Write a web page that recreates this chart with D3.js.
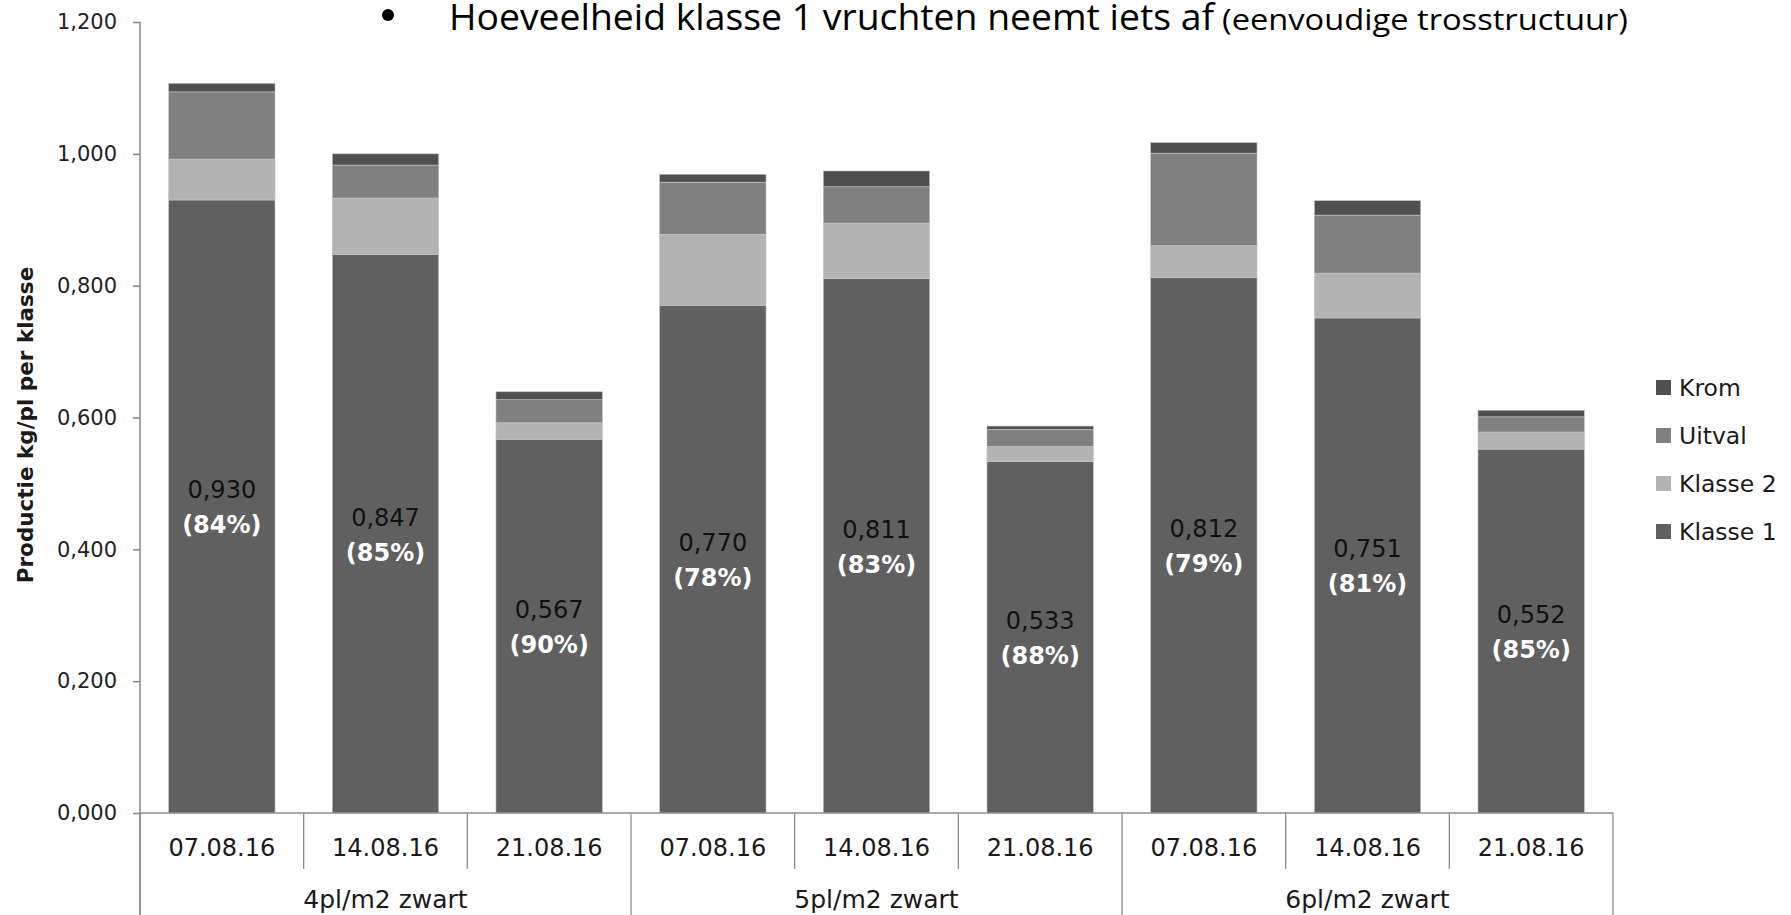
<!DOCTYPE html>
<html>
<head>
<meta charset="utf-8">
<script src="https://cdnjs.cloudflare.com/ajax/libs/d3/7.8.5/d3.min.js"></script>
<style>
  body { margin: 0; background: #fff; }
  text { font-family: "DejaVu Sans", "Lato", sans-serif; fill: #1a1a1a; }
</style>
</head>
<body>
<script>
// chart data
var categories = ["07.08.16", "14.08.16", "21.08.16",
                  "07.08.16", "14.08.16", "21.08.16",
                  "07.08.16", "14.08.16", "21.08.16"];
var groups = ["4pl/m2 zwart", "5pl/m2 zwart", "6pl/m2 zwart"];
var klasse1 = [0.930, 0.847, 0.567, 0.770, 0.811, 0.533, 0.812, 0.751, 0.552];
var klasse2 = [0.062, 0.086, 0.025, 0.108, 0.084, 0.023, 0.049, 0.068, 0.026];
var uitval  = [0.102, 0.050, 0.035, 0.079, 0.055, 0.026, 0.140, 0.088, 0.023];
var krom    = [0.013, 0.017, 0.012, 0.012, 0.024, 0.005, 0.016, 0.022, 0.010];
var percents = ["84%", "85%", "90%", "78%", "83%", "88%", "79%", "81%", "85%"];
var yTicks = [0, 0.2, 0.4, 0.6, 0.8, 1.0, 1.2];
var seriesNames = ["Klasse 1", "Klasse 2", "Uitval", "Krom"];
var seriesColors = ["#606060", "#b3b3b3", "#808080", "#505050"];

var W = 1791, H = 915;
var margin = {left: 140, right: 178, top: 22, bottom: 102};
var plotW = W - margin.left - margin.right,
    plotH = H - margin.top - margin.bottom;

var nl = d3.formatLocale({decimal: ",", thousands: ".", grouping: [3], currency: ["€", ""]});
var fmt = nl.format(".3f");

var svg = d3.select("body").append("svg")
    .attr("width", W)
    .attr("height", H);

var g = svg.append("g")
    .attr("transform", "translate(" + margin.left + "," + margin.top + ")");

// scales
var x = d3.scaleBand()
    .domain(d3.range(categories.length))
    .range([0, plotW])
    .paddingInner(0.35)
    .paddingOuter(0.175);
var step = x.step();
var y = d3.scaleLinear().domain([0, 1.2]).range([plotH, 0]);

// build rows for the stack
var rows = categories.map(function(c, i) {
  return {i: i, "Klasse 1": klasse1[i], "Klasse 2": klasse2[i], "Uitval": uitval[i], "Krom": krom[i]};
});
var stacked = d3.stack().keys(seriesNames)(rows);

// bars
g.selectAll("g.layer")
  .data(stacked)
  .enter().append("g")
    .attr("class", "layer")
    .attr("fill", function(d, i) { return seriesColors[i]; })
  .selectAll("rect")
  .data(function(d) { return d; })
  .enter().append("rect")
    .attr("x", function(d) { return x(d.data.i); })
    .attr("width", x.bandwidth())
    .attr("y", function(d) { return y(d[1]); })
    .attr("height", function(d) { return y(d[0]) - y(d[1]); })
    .attr("stroke", "#c4c4c4")
    .attr("stroke-width", 0.6);

// value labels inside klasse 1
var lab = g.selectAll("g.vlab")
  .data(klasse1)
  .enter().append("g")
    .attr("class", "vlab")
    .attr("transform", function(d, i) {
      return "translate(" + (x(i) + x.bandwidth() / 2) + "," + y(d / 2) + ")";
    });
lab.append("text")
    .attr("text-anchor", "middle")
    .attr("y", -8)
    .style("font-size", "24px")
    .style("fill", "#111")
    .text(function(d) { return fmt(d); });
lab.append("text")
    .attr("text-anchor", "middle")
    .attr("y", 27)
    .style("font-size", "24px")
    .style("font-weight", "bold")
    .style("fill", "#fff")
    .text(function(d, i) { return "(" + percents[i] + ")"; });

// y axis
var yAxis = g.append("g")
    .call(d3.axisLeft(y).tickValues(yTicks).tickSize(7).tickPadding(16).tickFormat(fmt));
yAxis.selectAll("path, line").attr("stroke", "#8c8c8c").attr("stroke-width", 1.6);
yAxis.select("path").attr("d", "M0," + y(1.2) + "V" + (H - margin.top));
yAxis.selectAll("text")
    .style("font-size", "21px")
    .style("font-family", "'DejaVu Sans', sans-serif")
    .style("fill", "#222");

// x axis line
g.append("line")
    .attr("x1", 0).attr("x2", plotW)
    .attr("y1", plotH).attr("y2", plotH)
    .attr("stroke", "#8c8c8c").attr("stroke-width", 1.6);

// category dividers, longer ones between groups
g.selectAll("line.div")
  .data(d3.range(categories.length + 1))
  .enter().append("line")
    .attr("class", "div")
    .attr("x1", function(d) { return d * step; })
    .attr("x2", function(d) { return d * step; })
    .attr("y1", plotH)
    .attr("y2", function(d) { return d % 3 === 0 ? H - margin.top : plotH + 56; })
    .attr("stroke", "#8c8c8c")
    .attr("stroke-width", 1.3);

// category labels
g.selectAll("text.cat")
  .data(categories)
  .enter().append("text")
    .attr("class", "cat")
    .attr("x", function(d, i) { return x(i) + x.bandwidth() / 2; })
    .attr("y", plotH + 43)
    .attr("text-anchor", "middle")
    .style("font-size", "24px")
    .text(function(d) { return d; });

// group labels
g.selectAll("text.grp")
  .data(groups)
  .enter().append("text")
    .attr("class", "grp")
    .attr("x", function(d, i) { return (i * 3 + 1.5) * step; })
    .attr("y", plotH + 95)
    .attr("text-anchor", "middle")
    .style("font-size", "25px")
    .text(function(d) { return d; });

// y axis title
svg.append("text")
    .attr("transform", "translate(33," + 425 + ") rotate(-90)")
    .attr("text-anchor", "middle")
    .style("font-size", "21.5px")
    .style("font-weight", "bold")
    .text("Productie kg/pl per klasse");

// legend (reverse order, Krom on top)
var legend = svg.append("g")
    .attr("transform", "translate(1656,380)");
var legItems = legend.selectAll("g")
  .data(seriesNames.slice().reverse())
  .enter().append("g")
    .attr("transform", function(d, i) { return "translate(0," + (i * 48) + ")"; });
legItems.append("rect")
    .attr("width", 15).attr("height", 15)
    .attr("fill", function(d) { return seriesColors[seriesNames.indexOf(d)]; });
legItems.append("text")
    .attr("x", 23)
    .attr("y", 8)
    .attr("dy", "0.35em")
    .style("font-size", "23.5px")
    .text(function(d) { return d; });

// title bullet line at the top
svg.append("circle")
    .attr("cx", 388).attr("cy", 15).attr("r", 6)
    .attr("fill", "#000");
svg.append("text")
    .attr("x", 449).attr("y", 30)
    .attr("textLength", 765)
    .attr("lengthAdjust", "spacingAndGlyphs")
    .style("font-family", "'Liberation Sans Narrow', 'Open Sans', sans-serif")
    .style("font-size", "37px")
    .style("fill", "#000")
    .text("Hoeveelheid klasse 1 vruchten neemt iets af");
svg.append("text")
    .attr("x", 1222).attr("y", 30)
    .attr("textLength", 406)
    .attr("lengthAdjust", "spacingAndGlyphs")
    .style("font-family", "'Liberation Sans Narrow', 'Open Sans', sans-serif")
    .style("font-size", "29px")
    .style("fill", "#000")
    .text("(eenvoudige trosstructuur)");
</script>
</body>
</html>
